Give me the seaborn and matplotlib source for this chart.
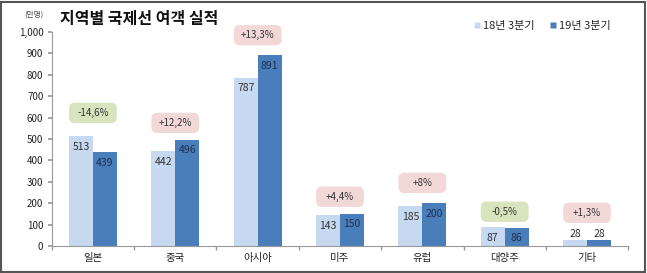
import matplotlib
matplotlib.use("Agg")
import matplotlib.pyplot as plt
import seaborn as sns
import pandas as pd
import numpy as np
from matplotlib.patches import Rectangle, FancyBboxPatch
from matplotlib.lines import Line2D

categories = ["일본", "중국", "아시아", "미주", "유럽", "대양주", "기타"]
series_names = ["18년 3분기", "19년 3분기"]
values_18 = [513, 442, 787, 143, 185, 87, 28]
values_19 = [439, 496, 891, 150, 200, 86, 28]
changes = ["-14.6%", "+12.2%", "+13.3%", "+4.4%", "+8%", "-0.5%", "+1.3%"]
change_y = [622, 575, 985, 230, 295, 160, 155]
y_ticks = [0, 100, 200, 300, 400, 500, 600, 700, 800, 900, 1000]

sns.set_theme(style="white")
plt.rcParams["font.family"] = ["Noto Sans CJK KR", "DejaVu Sans"]

df = pd.DataFrame({
    "지역": categories * 2,
    "기간": [series_names[0]] * len(categories) + [series_names[1]] * len(categories),
    "여객": values_18 + values_19,
})

c_light = "#c6d9f1"
c_dark = "#4a7ebb"

fig = plt.figure(figsize=(6.47, 2.73), dpi=100)
ax = fig.add_axes([0.080, 0.099, 0.891, 0.784])
sns.barplot(data=df, x="지역", y="여객", hue="기간", order=categories,
            hue_order=series_names, palette=[c_light, c_dark], width=0.58,
            saturation=1, ax=ax, legend=False, linewidth=0)

ax.set_ylim(0, 1000)
ax.set_xlim(-0.5, len(categories) - 0.5)
ax.set_yticks(y_ticks)
ax.set_yticklabels([f"{v:,}" for v in y_ticks], fontsize=7, color="#222222")
ax.set_xticks(range(len(categories)))
ax.set_xticklabels(categories, fontsize=7.5, color="#222222")
ax.set_xticks(np.arange(-0.5, len(categories)), minor=True)
ax.tick_params(axis="x", which="major", length=0, pad=5)
ax.tick_params(axis="x", which="minor", length=3, color="#999999", direction="out", bottom=True)
ax.tick_params(axis="y", length=3, color="#999999", direction="out", left=True, pad=3)
ax.set_xlabel("")
ax.set_ylabel("")
for s in ["top", "right"]:
    ax.spines[s].set_visible(False)
for s in ["left", "bottom"]:
    ax.spines[s].set_color("#999999")
    ax.spines[s].set_linewidth(0.8)

# value labels
n = len(categories)
bars = ax.patches
for i, b in enumerate(bars[:2 * n]):
    h = b.get_height()
    cx = b.get_x() + b.get_width() / 2
    col = "#333333" if i < n else "#1f2f4f"
    if h < 50:
        ax.annotate(f"{int(h)}", (cx, h), xytext=(0, 1), textcoords="offset points",
                    ha="center", va="bottom", fontsize=7.5, color="#333333")
    else:
        ax.annotate(f"{int(h)}", (cx, h), xytext=(0, -4), textcoords="offset points",
                    ha="center", va="top", fontsize=7.5, color=col)

# change boxes (fixed size, like the original)
bw, bh = 0.58, 95
for i, (txt, yv) in enumerate(zip(changes, change_y)):
    fc = "#d7e4bd" if txt.startswith("-") else "#f2d9d8"
    box = FancyBboxPatch((i - bw / 2, yv - bh / 2), bw, bh,
                         boxstyle="round,pad=0,rounding_size=0.07",
                         mutation_aspect=385, fc=fc, ec="none", zorder=3,
                         clip_on=False)
    ax.add_patch(box)
    ax.text(i, yv, txt.replace(".", ","), ha="center", va="center", fontsize=7,
            color="#333333", zorder=4, clip_on=False)

# title and unit
fig.text(0.038, 0.945, "(만명)", fontsize=5.5, color="#444444", va="center")
fig.text(0.093, 0.93, "지역별 국제선 여객 실적", fontsize=11.5, color="#111111",
         va="center", fontweight="bold")

# legend
handles = [Line2D([], [], marker="s", linestyle="none", markersize=4,
                  markerfacecolor=c, markeredgecolor="none") for c in [c_light, c_dark]]
fig.legend(handles, series_names, loc="center right", bbox_to_anchor=(0.96, 0.905),
           ncol=2, frameon=False, fontsize=8, handletextpad=0.2, columnspacing=1.2,
           handlelength=0.8)

# frame
fig.patches.append(Rectangle((0.002, 0.004), 0.995, 0.99, transform=fig.transFigure,
                             fill=False, ec="#555555", lw=1.5))

fig.savefig("out.png", dpi=100)
